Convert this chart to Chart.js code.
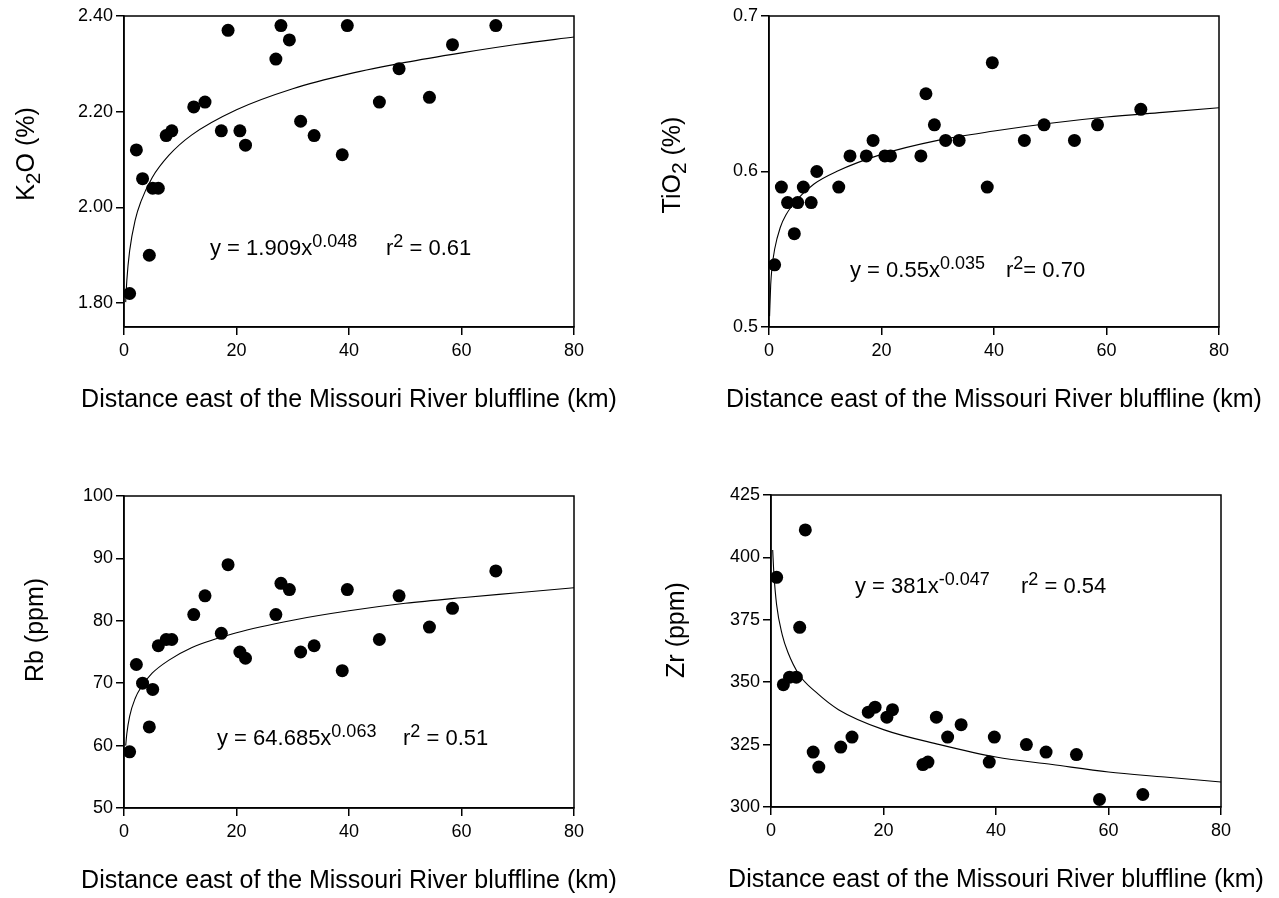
<!DOCTYPE html>
<html>
<head>
<meta charset="utf-8">
<title>Loess chemistry east of the Missouri River bluffline</title>
<script src="https://cdn.jsdelivr.net/npm/chart.js@4.4.1/dist/chart.umd.min.js"></script>
<style>
  html, body { margin: 0; padding: 0; background: #fff; }
  #page { position: relative; width: 1279px; height: 898px; overflow: hidden; }
  #page canvas { position: absolute; }
</style>
</head>
<body>
<div id="page">
  <canvas id="k2o" width="640" height="449" style="left:0;top:0"></canvas>
  <canvas id="tio2" width="639" height="449" style="left:640px;top:0"></canvas>
  <canvas id="rb" width="640" height="449" style="left:0;top:449px"></canvas>
  <canvas id="zr" width="639" height="449" style="left:640px;top:449px"></canvas>
</div>
<script>
  // sample sites, km east of the bluffline (same sites in every panel)
  const distanceKm = [1.0, 2.2, 3.3, 4.5, 5.1, 6.1, 7.5, 8.5, 12.4, 14.4, 17.3, 18.5, 20.6, 21.6,
    27.0, 27.9, 29.4, 31.4, 33.8, 38.8, 39.7, 45.4, 48.9, 54.3, 58.4, 66.1];

  const k2oPct = [1.82, 2.12, 2.06, 1.90, 2.04, 2.04, 2.15, 2.16, 2.21, 2.22, 2.16, 2.37, 2.16, 2.13,
    2.31, 2.38, 2.35, 2.18, 2.15, 2.11, 2.38, 2.22, 2.29, 2.23, 2.34, 2.38];
  const tio2Pct = [0.54, 0.59, 0.58, 0.56, 0.58, 0.59, 0.58, 0.60, 0.59, 0.61, 0.61, 0.62, 0.61, 0.61,
    0.61, 0.65, 0.63, 0.62, 0.62, 0.59, 0.67, 0.62, 0.63, 0.62, 0.63, 0.64];
  const rbPpm = [59, 73, 70, 63, 69, 76, 77, 77, 81, 84, 78, 89, 75, 74,
    81, 86, 85, 75, 76, 72, 85, 77, 84, 79, 82, 88];
  const zrPpm = [392, 349, 352, 352, 372, 411, 322, 316, 324, 328, 338, 340, 336, 339,
    317, 318, 336, 328, 333, 318, 328, 325, 322, 321, 303, 305];

  // fitted power curves (null where the line is not drawn)
  const fitX = [0.1, 0.3, 0.5, 1, 2, 3, 5, 8, 12, 20, 30, 40, 50, 60, 70, 80];
  const k2oFit = [null, 1.802, 1.847, 1.909, 1.974, 2.012, 2.062, 2.109, 2.151, 2.204, 2.248, 2.279, 2.303, 2.323, 2.341, 2.356];
  const tio2Fit = [0.507, 0.527, 0.537, 0.550, 0.564, 0.572, 0.582, 0.592, 0.600, 0.611, 0.620, 0.626, 0.631, 0.635, 0.638, 0.641];
  const rbFit = [null, 60.0, 61.9, 64.7, 67.6, 69.3, 71.6, 73.7, 75.7, 78.1, 80.1, 81.6, 82.8, 83.7, 84.5, 85.3];
  const zrFit = [null, 403, 394, 381, 369, 362, 353, 346, 339, 331, 325, 320, 317, 314, 312, 310];

  // tick labels
  const distanceTicks = [0, 20, 40, 60, 80];
  const k2oTicks = [1.8, 2.0, 2.2, 2.4];
  const tio2Ticks = [0.5, 0.6, 0.7];
  const rbTicks = [50, 60, 70, 80, 90, 100];
  const zrTicks = [300, 325, 350, 375, 400, 425];

  const xTitle = 'Distance east of the Missouri River bluffline (km)';
  const FONT = '"Liberation Sans", Arial, Helvetica, sans-serif';

  const toPoints = (xs, ys) =>
    xs.map((x, i) => ({ x, y: ys[i] })).filter((p) => p.y !== null);

  // runs: [text, kind]  kind = '' | 'sup' | 'sub'
  const runSize = (kind, size) => (kind ? Math.round(size * 0.84) : size);

  const measureRuns = (ctx, runs, size) =>
    runs.reduce((sum, [text, kind]) => {
      ctx.font = `${runSize(kind, size)}px ${FONT}`;
      return sum + ctx.measureText(text).width;
    }, 0);

  const drawRuns = (ctx, runs, x, y, size) => {
    let cx = x;
    runs.forEach(([text, kind]) => {
      const dy = kind === 'sup' ? -size * 0.37 : kind === 'sub' ? size * 0.24 : 0;
      ctx.font = `${runSize(kind, size)}px ${FONT}`;
      ctx.fillText(text, cx, y + dy);
      cx += ctx.measureText(text).width;
    });
    return cx;
  };

  const panelDecor = {
    id: 'panelDecor',
    afterDraw(chart, args, opts) {
      const { ctx, chartArea: a } = chart;
      ctx.save();
      ctx.strokeStyle = '#000';
      ctx.lineWidth = 1.5;
      ctx.strokeRect(a.left, a.top, a.right - a.left, a.bottom - a.top);

      ctx.fillStyle = '#000';
      ctx.textBaseline = 'alphabetic';

      ctx.font = `25px ${FONT}`;
      ctx.textAlign = 'center';
      ctx.fillText(xTitle, (a.left + a.right) / 2, a.bottom + 80);
      ctx.textAlign = 'left';

      const eq = opts.equation;
      drawRuns(ctx, eq.left, eq.x, eq.y, 22);
      drawRuns(ctx, eq.right, eq.rx, eq.y, 22);

      const w = measureRuns(ctx, opts.yTitle, 25);
      ctx.translate(opts.yTitleAt[0], opts.yTitleAt[1]);
      ctx.rotate(-Math.PI / 2);
      drawRuns(ctx, opts.yTitle, -w / 2, 9, 25);
      ctx.restore();
    },
  };

  const axisStyle = {
    grid: { display: true, drawOnChartArea: false, drawTicks: true, tickLength: 8, color: '#000', lineWidth: 1.5 },
    border: { display: true, color: '#000', width: 1.5 },
  };

  const makePanel = (canvasId, cfg) => {
    const canvas = document.getElementById(canvasId);
    return new Chart(canvas, {
      type: 'scatter',
      data: {
        datasets: [
          {
            label: 'samples',
            data: toPoints(distanceKm, cfg.values),
            showLine: false,
            pointRadius: 6.5,
            pointBorderWidth: 0,
            pointBackgroundColor: '#000',
            pointBorderColor: '#000',
          },
          {
            label: 'power fit',
            data: toPoints(fitX, cfg.fit),
            showLine: true,
            pointRadius: 0,
            borderColor: '#000',
            borderWidth: 1.1,
            cubicInterpolationMode: 'monotone',
          },
        ],
      },
      options: {
        responsive: false,
        devicePixelRatio: 1,
        animation: false,
        events: [],
        layout: { padding: cfg.padding },
        plugins: {
          legend: { display: false },
          tooltip: { enabled: false },
          panelDecor: {
            yTitle: cfg.yTitle,
            yTitleAt: cfg.yTitleAt,
            equation: cfg.equation,
          },
        },
        scales: {
          x: {
            type: 'linear',
            min: 0,
            max: 80,
            afterBuildTicks: (scale) => {
              scale.ticks = distanceTicks.map((value) => ({ value }));
            },
            afterFit: (scale) => {
              scale.height = cfg.xHeight;
            },
            ...axisStyle,
            ticks: { color: '#000', font: { family: FONT, size: 18 }, padding: 5, maxRotation: 0, autoSkip: false },
          },
          y: {
            type: 'linear',
            min: cfg.yMin,
            max: cfg.yMax,
            afterBuildTicks: (scale) => {
              scale.ticks = cfg.ticks.map((value) => ({ value }));
            },
            afterFit: (scale) => {
              scale.width = cfg.yWidth;
            },
            ...axisStyle,
            ticks: {
              color: '#000',
              font: { family: FONT, size: 18 },
              padding: 3,
              autoSkip: false,
              callback: (value) => value.toFixed(cfg.decimals),
            },
          },
        },
      },
      plugins: [panelDecor],
    });
  };

  const init = () => {
    makePanel('k2o', {
      values: k2oPct,
      fit: k2oFit,
      ticks: k2oTicks,
      yMin: 1.75,
      yMax: 2.4,
      decimals: 2,
      padding: { left: 0, top: 16, right: 66, bottom: 0 },
      yWidth: 124,
      xHeight: 122,
      yTitle: [['K', ''], ['2', 'sub'], ['O (%)', '']],
      yTitleAt: [25, 154],
      equation: {
        x: 210, y: 255, rx: 386,
        left: [['y = 1.909x', ''], ['0.048', 'sup']],
        right: [['r', ''], ['2', 'sup'], [' = 0.61', '']],
      },
    });

    makePanel('tio2', {
      values: tio2Pct,
      fit: tio2Fit,
      ticks: tio2Ticks,
      yMin: 0.5,
      yMax: 0.7,
      decimals: 1,
      padding: { left: 0, top: 16, right: 60, bottom: 0 },
      yWidth: 129,
      xHeight: 122,
      yTitle: [['TiO', ''], ['2', 'sub'], [' (%)', '']],
      yTitleAt: [31, 165],
      equation: {
        x: 210, y: 277, rx: 366,
        left: [['y = 0.55x', ''], ['0.035', 'sup']],
        right: [['r', ''], ['2', 'sup'], ['= 0.70', '']],
      },
    });

    makePanel('rb', {
      values: rbPpm,
      fit: rbFit,
      ticks: rbTicks,
      yMin: 50,
      yMax: 100,
      decimals: 0,
      padding: { left: 0, top: 47, right: 66, bottom: 0 },
      yWidth: 124,
      xHeight: 90,
      yTitle: [['Rb (ppm)', '']],
      yTitleAt: [34, 181],
      equation: {
        x: 217, y: 296, rx: 403,
        left: [['y = 64.685x', ''], ['0.063', 'sup']],
        right: [['r', ''], ['2', 'sup'], [' = 0.51', '']],
      },
    });

    makePanel('zr', {
      values: zrPpm,
      fit: zrFit,
      ticks: zrTicks,
      yMin: 300,
      yMax: 425,
      decimals: 0,
      padding: { left: 0, top: 46, right: 58, bottom: 0 },
      yWidth: 131,
      xHeight: 91,
      yTitle: [['Zr (ppm)', '']],
      yTitleAt: [35, 181],
      equation: {
        x: 215, y: 144, rx: 381,
        left: [['y = 381x', ''], ['-0.047', 'sup']],
        right: [['r', ''], ['2', 'sup'], [' = 0.54', '']],
      },
    });
  };

  if (document.readyState === 'loading') {
    document.addEventListener('DOMContentLoaded', init);
  } else {
    init();
  }
</script>
</body>
</html>
